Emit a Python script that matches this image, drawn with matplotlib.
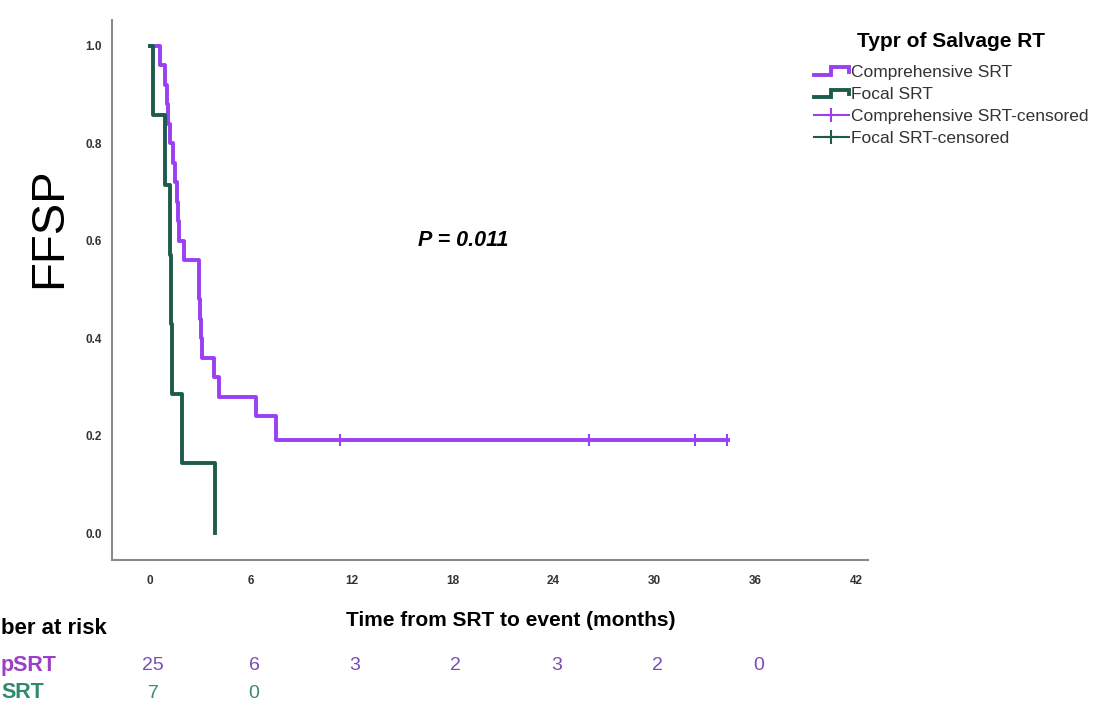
import matplotlib
matplotlib.use('Agg')
import matplotlib.pyplot as plt
from matplotlib.legend_handler import HandlerBase
from matplotlib.lines import Line2D
from matplotlib.transforms import blended_transform_factory

plt.rcParams['font.family'] = ['Liberation Sans', 'DejaVu Sans']

# Kaplan-Meier steps (time in months, survival after the step)
comp_t = [0, 0.6, 0.9, 1.0, 1.1, 1.2, 1.35, 1.5, 1.6, 1.7, 1.75, 2.0, 2.9, 2.95, 3.0, 3.05, 3.1, 3.8, 4.1, 6.3, 7.5, 34.4]
comp_s = [1.0, 0.96, 0.92, 0.88, 0.84, 0.80, 0.76, 0.72, 0.68, 0.64, 0.60, 0.56, 0.52, 0.48, 0.44, 0.40, 0.36, 0.32, 0.28, 0.24, 0.192, 0.192]
comp_cens_t = [11.3, 26.1, 32.4, 34.3]
comp_cens_s = [0.192, 0.192, 0.192, 0.192]

focal_t = [0, 0.2, 0.9, 1.2, 1.25, 1.3, 1.9, 3.9]
focal_s = [1.0, 0.857, 0.714, 0.571, 0.429, 0.286, 0.143, 0.0]

xticks = [0, 6, 12, 18, 24, 30, 36, 42]
yticks = [0.0, 0.2, 0.4, 0.6, 0.8, 1.0]

risk_times = [0, 6, 12, 18, 24, 30, 36]
risk_comp = [25, 6, 3, 2, 3, 2, 0]
risk_focal_times = [0, 6]
risk_focal = [7, 0]

purple = '#9a3ff2'
green = '#1d5c4c'


class StepHandler(HandlerBase):
    def create_artists(self, legend, orig_handle, x0, y0, width, height, fontsize, trans):
        xs = [x0, x0 + width * 0.5, x0 + width * 0.5, x0 + width, x0 + width]
        ys = [y0 + height * 0.2, y0 + height * 0.2, y0 + height * 0.8, y0 + height * 0.8, y0 + height * 0.45]
        ln = Line2D(xs, ys, color=orig_handle.get_color(), lw=orig_handle.get_linewidth(),
                    solid_joinstyle='miter', transform=trans)
        return [ln]


fig = plt.figure(figsize=(10.97, 7.13), dpi=100)
ax = fig.add_axes([0.102, 0.2146, 0.689, 0.7574])

ax.step(comp_t, comp_s, where='post', color=purple, lw=2.8)
ax.step(focal_t, focal_s, where='post', color=green, lw=2.8)
ax.plot(comp_cens_t, comp_cens_s, ls='none', marker='|', ms=8, mew=1.5, color=purple)

ax.set_xlim(-2.26, 42.7)
ax.set_ylim(-0.055, 1.053)
ax.set_xticks(xticks)
ax.set_yticks(yticks)
ax.set_yticklabels(['%.1f' % v for v in yticks])
ax.tick_params(length=0, labelsize=8.5, labelcolor='#333333')
ax.tick_params(axis='y', pad=7)
ax.tick_params(axis='x', pad=11)
for lab in ax.get_xticklabels() + ax.get_yticklabels():
    lab.set_fontweight('bold')

for s in ['top', 'right']:
    ax.spines[s].set_visible(False)
for s in ['left', 'bottom']:
    ax.spines[s].set_color('#8a8a8a')
    ax.spines[s].set_linewidth(1.5)

fig.text(511 / 1097, 1 - 620 / 713, 'Time from SRT to event (months)', fontsize=15,
         fontweight='bold', ha='center', va='center')
fig.text(0.045, 1 - 228 / 713, 'FFSP', fontsize=34, rotation=90, ha='center', va='center')

ax.text(418 / 1097, 1 - 240 / 713, 'P = 0.011', transform=fig.transFigure, fontsize=15.5,
        fontweight='bold', style='italic', ha='left', va='center')

# legend
h1 = Line2D([], [], color=purple, lw=2.8)
h2 = Line2D([], [], color=green, lw=2.8)
h3 = Line2D([], [], color=purple, lw=1.5, marker='+', ms=10, mew=1.5)
h4 = Line2D([], [], color=green, lw=1.5, marker='+', ms=10, mew=1.5)
leg = fig.legend([h1, h2, h3, h4],
                 ['Comprehensive SRT', 'Focal SRT', 'Comprehensive SRT-censored', 'Focal SRT-censored'],
                 handler_map={h1: StepHandler(), h2: StepHandler()},
                 loc='upper left', bbox_to_anchor=(0.731, 0.972), frameon=False,
                 fontsize=12.5, handlelength=2.0, handletextpad=0.1, labelspacing=0.4,
                 borderpad=0.2, title='Typr of Salvage RT',
                 title_fontproperties={'weight': 'bold', 'size': 15})
leg._legend_box.sep = 10
for t in leg.get_texts():
    t.set_color('#333333')

# number at risk table (cut off at the left edge in the source picture)
tr = blended_transform_factory(ax.transData, fig.transFigure)
fig.text(1 / 1097, 1 - 628 / 713, 'ber at risk', fontsize=16, fontweight='bold',
         ha='left', va='center')
fig.text(1 / 1097, 1 - 666 / 713, 'pSRT', fontsize=15.5, fontweight='bold', color='#9c3fc6',
         ha='left', va='center')
fig.text(1 / 1097, 1 - 693 / 713, 'SRT', fontsize=15.5, fontweight='bold', color='#2f8a6a',
         ha='left', va='center')
for t, n in zip(risk_times, risk_comp):
    ax.text(t + 0.2, 1 - 666 / 713, str(n), transform=tr, fontsize=14, color='#7a4cb8',
            ha='center', va='center')
for t, n in zip(risk_focal_times, risk_focal):
    ax.text(t + 0.2, 1 - 693 / 713, str(n), transform=tr, fontsize=14, color='#3a8a70',
            ha='center', va='center')

fig.savefig('out.png', dpi=100)
